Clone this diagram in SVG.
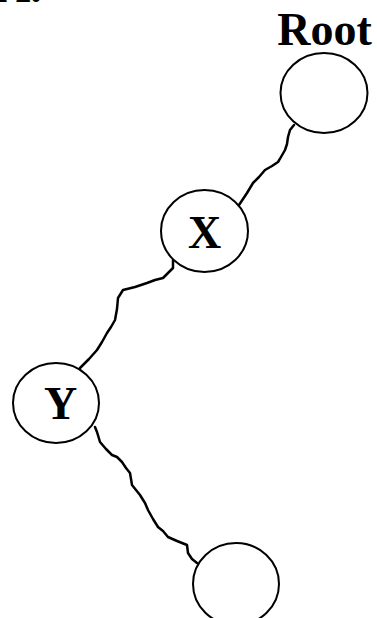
<svg xmlns="http://www.w3.org/2000/svg" width="377" height="618" viewBox="0 0 377 618">
<style>
.node ellipse{fill:#fff;stroke:#000;stroke-width:2}
.lbl{font-family:"Liberation Serif","Times New Roman",serif;font-weight:bold;font-size:46px;fill:#000}
.edge{fill:none;stroke:#000;stroke-width:2.5;stroke-linejoin:round;stroke-linecap:round}
</style>
<rect width="377" height="618" fill="#fff"/>
<text class="lbl" x="-3" y="1.5">A.</text>
<g id="connectors">
<path class="edge" d="M294,125 L290,130 L288,137 L287,144 L285,150 L281,157 L278,162 L272,166 L265,170 L259,177 L253,183 L250,188 L247,193 L243,199 L239,205"/>
<path class="edge" d="M173,260 L173,268 L168,273 L163,278 L155,280 L147,283 L135,287 L123,290 L118,298 L117,309 L115,320 L111,327 L107,333 L102,342 L97,350 L89,359 L80,368"/>
<path class="edge" d="M95,427 L97,432 L100,442 L106,449 L112,455 L117,457 L122,462 L126,468 L130,473 L131,479 L132,485 L136,490 L140,495 L145,503 L148,510 L153,519 L158,527 L163,531 L168,537 L177,541 L187,545 L188,553 L192,559 L197,563"/>
</g>
<g id="root" class="node">
<ellipse cx="324" cy="93" rx="43.5" ry="40"/>
<text class="lbl" x="324.5" y="45" text-anchor="middle">Root</text>
</g>
<g id="x" class="node">
<ellipse cx="204.5" cy="231" rx="43.5" ry="41"/>
<text class="lbl" x="204.5" y="248" text-anchor="middle">X</text>
</g>
<g id="y" class="node">
<ellipse cx="56" cy="403" rx="43" ry="40"/>
<text class="lbl" x="60.5" y="419" text-anchor="middle">Y</text>
</g>
<g id="leaf" class="node">
<ellipse cx="236" cy="584" rx="43" ry="41"/>
</g>
</svg>
